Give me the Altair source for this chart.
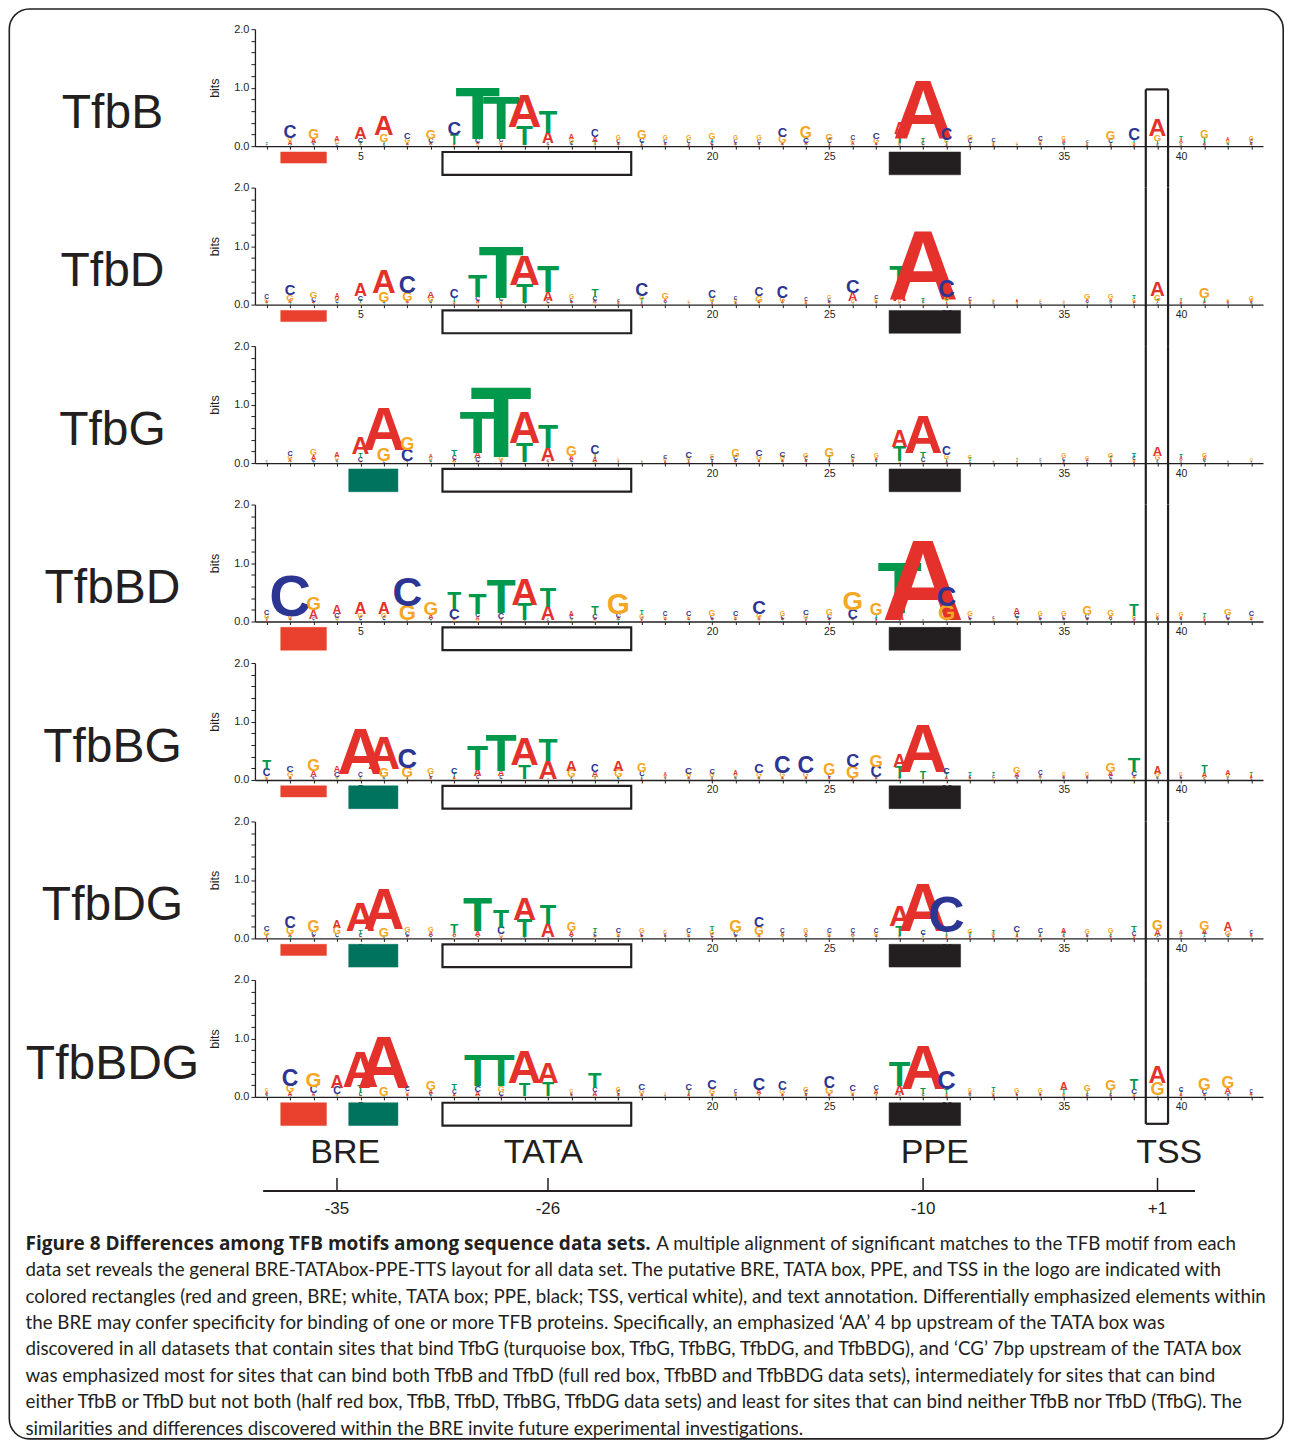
import altair as alt
import pandas as pd

# ---------------------------------------------------------------- data
PANELS = ["TfbB", "TfbD", "TfbG", "TfbBD", "TfbBG", "TfbDG", "TfbBDG"]

# one string per alignment position (1..43): letter + height in 1/100 bits,
# listed from top of the stack downwards
TFBB = ["T2 C1 G1 A1", "C20 G6 A6 T2", "G15 A7 C3 T2", "A7 G5 C3 T1", "A19 C7 T4 G2",
        "A31 G12 T5 C2", "C9 G7 A3 T2", "G14 C7 A4 T2", "C21 T15 A2 G2", "T87 C7 A3 G3",
        "T72 C6 G5 A2", "A55 T31 C1 G1", "T35 A18 C3 G2", "A7 G6 C4 T2", "C11 A8 T5 G2",
        "G6 C5 A3 T2", "G13 C7 T4 A2", "G6 C5 A3 T2", "G6 C5 T3 A2", "G9 T7 C4 A2",
        "G6 C5 A3 T2", "G7 C5 A3 T2", "C14 G11 A3 T2", "G17 C8 A4 T2", "G10 C6 T3 A2",
        "C6 G5 A4 T2", "C10 G8 A3 T2", "A17 T15 G4 C2", "A100 T6 C4 G2", "C17 G5 T4 A2",
        "G7 C6 T3 A2", "C5 G3 T2 A2", "G2 C1 A1 T1", "C6 G4 A3 T2", "G5 A5 C3 T2",
        "C3 G2 A2 T1", "G13 C6 T3 A2", "C18 T5 G3 A2", "A28 G10 T6 C2", "T5 A5 G3 C2",
        "G11 T9 A3 C2", "A4 G4 C3 T2", "G6 C4 A3 T2"]
TFBD = ["C6 G5 A3 T2", "C16 G10 A4 T2", "G10 C6 A3 T2", "A6 G6 C4 T2", "A20 C7 T5 G2",
        "A38 G15 C3 T2", "C27 G14 A4 T2", "A10 G7 C3 T2", "C13 T6 G3 A2", "T36 C6 A4 G3",
        "T88 C6 G4 A2", "A50 T32 C1 G1", "T42 A15 C4 G2", "G6 C4 A3 T2", "T12 C6 A5 G2",
        "C3 G2 A2 T1", "C20 G6 T6 A2", "G9 A4 C3 T2", "G2 C1 A1 T1", "C11 G6 T3 A2",
        "C4 G4 A2 T2", "C13 G10 A3 T2", "C17 G7 A3 T2", "C4 G3 A2 T1", "G5 C4 A3 T2",
        "C21 A14 G4 T2", "C5 G4 A3 T2", "T39 A21 G4 C2", "A117 T5 C3 G2", "C26 G7 T4 A2",
        "C4 G3 A2 T2", "G3 T2 C2 A1", "A2 T2 G2 C1", "G2 C2 A1 T1", "G2 C1 A1 T1",
        "G8 A4 C3 T2", "G7 A4 T3 C2", "T5 G4 A3 C2", "A23 G9 T4 C2", "T3 G2 A2 C2",
        "G15 T6 A3 C2", "G3 A2 C2 T1", "G6 A3 C2 T2"]
TFBG = ["C1 G1 A1 T1", "C7 G6 A4 T2", "G9 A7 C4 T2", "A7 G5 C3 T2", "A28 T7 C7 G2",
        "A71 G20 C2 T1", "G20 C19 A2 T2", "A5 G4 C3 T2", "T10 C6 A4 G2", "T70 A10 C6 G2",
        "T120 G6 A2 C2", "A51 T32 C1 G1", "T38 A22 C2 G2", "G15 A6 C4 T2", "C13 T7 A7 G2",
        "G2 A1 C1 T1", "G1 C1 A1 T1", "C5 G4 A2 T1", "C9 G4 T3 A2", "G5 C4 T3 A2",
        "G11 C6 A3 T2", "C10 G7 A3 T2", "C8 G6 A3 T2", "G7 C4 A3 T2", "G13 T6 C3 A2",
        "C5 G4 A3 T2", "G6 A3 C3 T2", "A26 T24 G2 C1", "A63 T10 C6 G2", "C13 G6 T5 A2",
        "G5 T4 C2 A1", "G1 C1 A1 T1", "T2 C1 G1 A1", "C2 G1 A1 T1", "G6 C4 T2 A2",
        "G5 A3 C2 T1", "G7 T4 A3 C2", "T7 C4 G3 A2", "A14 G7 T3 C2", "T5 A4 G3 C2",
        "G6 A4 C3 T2", "G1 C1 A1 T1", "G3 C1 A1 T1"]
TFBBD = ["C7 G6 T3 A2", "C68 G5 A3 T2", "G21 A14 C3 T2", "A13 C7 G4 T2", "A18 G7 C4 T2",
         "A18 G7 C4 T2", "C48 G25 A1 T1", "G21 A7 C3 T2", "T26 C16 A3 G2", "T34 C6 A5 G2",
         "T56 C9 G3 A2", "A43 T27 C1 G1", "T31 A22 C2 G1", "A6 C5 G3 T2", "T13 C7 A3 G2",
         "G34 C7 A4 T2", "T6 G6 C3 A2", "C6 G4 A3 T2", "C7 G4 A3 T2", "G9 C5 A3 T2",
         "C7 G4 A3 T2", "C21 G7 A4 T2", "G7 C5 A3 T2", "C8 G6 T3 A2", "G9 C6 A3 T2",
         "G30 C15 A3 T2", "G18 T6 C3 A2", "T86 A13 C1 G1", "A136 C1 G1 T1", "C31 G25 A1 T1",
         "G7 C5 A3 T2", "C2 G2 A1 T1", "A9 C7 T4 G2", "G6 C4 A3 T2", "G7 C4 A3 T2",
         "G13 C6 A3 T2", "G9 A5 C3 T2", "T17 G5 C3 A2", "G4 A3 C2 T2", "G6 A3 C2 T2",
         "T5 G3 C2 A2", "G10 C6 A3 T2", "C7 G4 A3 T2"]
TFBBG = ["T16 C11 G4 A2", "C10 G8 A3 T2", "G18 A10 C3 T2", "A9 C8 G3 T2", "A76 C6 T3 G2",
         "A53 G14 C3 T2", "C31 G16 T3 A2", "G9 C5 A3 T2", "C9 T6 A3 G2", "T40 A11 C4 G2",
         "T60 A9 C4 G2", "A46 T23 C1 G1", "T36 A30 C1 G1", "A16 G11 T3 C2", "C11 A9 T3 G2",
         "A16 G11 C3 T2", "G13 C7 T4 A2", "A4 G3 C2 T2", "C10 G6 A3 T2", "C7 G6 T3 A2",
         "A6 G4 C3 T2", "C14 G7 A3 T2", "C26 G7 A3 T2", "C26 G7 A3 T2", "G17 C4 A3 T2",
         "C20 G19 A2 T1", "G19 C17 A3 T2", "A20 T18 C2 G2", "A81 T11 C1 G1", "C9 T6 A3 G2",
         "T5 C3 A2 G2", "T4 C3 G2 A1", "G10 A7 C3 T2", "C6 A3 G3 T2", "G4 A3 C2 T2",
         "G5 A3 C2 T2", "G14 A7 C4 T2", "T23 C8 A3 G3", "A11 G6 C3 T2", "G4 C3 A2 T2",
         "T11 A7 G3 C2", "A7 G4 T3 C2", "T4 A3 G2 C2"]
TFBDG = ["C8 G7 T3 A2", "C17 G11 A5 T2", "G17 C6 A3 T2", "A12 G11 C5 T2", "A48 T6 C4 G2",
         "A67 G14 T2 C1", "G8 C6 A3 T2", "G7 A6 C3 T2", "T14 A5 C3 G2", "T56 A8 C3 G2",
         "T30 C11 G5 A2", "A37 T29 C1 G1", "T31 A22 C1 G1", "G13 A7 C3 T2", "T6 C4 A3 G2",
         "C7 G4 A3 T2", "G7 C4 A3 T2", "G4 C3 A2 T2", "C6 G4 A3 T2", "T7 G6 C4 A2",
         "G18 C6 A3 T2", "C15 G13 A4 T2", "C6 A5 G3 T2", "G6 A4 C3 T2", "C6 G5 A3 T2",
         "C6 A5 G3 T2", "C6 G5 A3 T2", "A34 T16 G3 C2", "A80 C7 T4 G2", "C59 T6 G3 A2",
         "G6 T4 C2 A2", "T5 G4 C2 A2", "C9 T6 A3 G2", "C7 T4 A3 G2", "A7 T5 C3 G2",
         "G6 C3 A2 T2", "G7 T4 C3 A2", "T9 C6 G3 A2", "G15 A10 T3 C2", "A5 T3 G2 C2",
         "G14 A7 T5 C2", "A13 G8 C3 T2", "C4 A3 G2 T2"]
TFBBDG = ["G4 A3 C3 T2", "C26 G11 A6 T2", "G23 C11 A4 T2", "A20 C11 G3 T2", "A59 T11 C4 G2",
          "A88 G13 C1 T1", "C6 G5 A3 T2", "G14 A6 C3 T2", "T9 C6 A3 G2", "T52 C9 A7 G2",
          "T52 G9 C7 A2", "A55 T21 C1 G1", "A34 T22 C1 G1", "G4 C3 A2 T2", "T25 C7 A6 G2",
          "G6 C4 A3 T2", "C10 G7 A3 T2", "G2 A1 C1 T1", "C9 T7 A3 G2", "C14 G8 A3 T2",
          "C4 G3 A2 T2", "C19 A7 G3 T2", "C13 G7 A3 T2", "G7 C4 A3 T2", "C17 G11 A3 T2",
          "C9 G5 A3 T2", "C7 A6 G3 T2", "T41 A15 C2 G2", "A74 T9 C3 G2", "C29 T8 G3 A2",
          "G5 A3 C3 T2", "T6 G4 C2 A2", "G6 C3 A2 T2", "G6 C3 A2 T2", "A11 T7 G3 C2",
          "G9 T5 C3 A2", "G15 T7 C3 A2", "T15 C8 G3 A2", "A28 G20 T2 C1", "C6 T4 A3 G2",
          "G18 C7 A3 T2", "G18 A10 C3 T2", "C4 A3 G2 T2"]
LOGOS = dict(zip(PANELS, [TFBB, TFBD, TFBG, TFBBD, TFBBG, TFBDG, TFBBDG]))

BASES = ["A", "C", "G", "T"]
BASE_COLORS = ["#e4312c", "#2c3592", "#f5a623", "#00984a"]

# annotated regions (alignment positions) and which panels show them
REGION_NAMES = ["BRE_CG", "BRE_AA", "TATA", "PPE"]
REGION_START = [1.6, 4.5, 8.5, 27.55]
REGION_END = [3.55, 6.6, 16.55, 30.6]
REGION_FILL = ["#e8412e", "#00735f", "#ffffff", "#231f20"]
PANEL_REGIONS = {
    "TfbB": ["BRE_CG:half", "TATA", "PPE"],
    "TfbD": ["BRE_CG:half", "TATA", "PPE"],
    "TfbG": ["BRE_AA", "TATA", "PPE"],
    "TfbBD": ["BRE_CG", "TATA", "PPE"],
    "TfbBG": ["BRE_CG:half", "BRE_AA", "TATA", "PPE"],
    "TfbDG": ["BRE_CG:half", "BRE_AA", "TATA", "PPE"],
    "TfbBDG": ["BRE_CG", "BRE_AA", "TATA", "PPE"],
}
TSS_SPAN = [38.5, 39.45]

ELEMENT_NAMES = ["BRE", "TATA", "PPE", "TSS"]
ELEMENT_CENTERS = [4.35, 12.8, 29.5, 39.5]
REL_TICK_POS = [4, 13, 29, 39]
REL_TICK_LABELS = ["-35", "-26", "-10", "+1"]

CAPTION_BOLD = "Figure 8 Differences among TFB motifs among sequence data sets."
CAPTION_LINES = [
    "A multiple alignment of significant matches to the TFB motif from each",
    "data set reveals the general BRE-TATAbox-PPE-TTS layout for all data set. The putative BRE, TATA box, PPE, and TSS in the logo are indicated with",
    "colored rectangles (red and green, BRE; white, TATA box; PPE, black; TSS, vertical white), and text annotation. Differentially emphasized elements within",
    "the BRE may confer specificity for binding of one or more TFB proteins. Specifically, an emphasized \u2018AA\u2019 4 bp upstream of the TATA box was",
    "discovered in all datasets that contain sites that bind TfbG (turquoise box, TfbG, TfbBG, TfbDG, and TfbBDG), and \u2018CG\u2019 7bp upstream of the TATA box",
    "was emphasized most for sites that can bind both TfbB and TfbD (full red box, TfbBD and TfbBDG data sets), intermediately for sites that can bind",
    "either TfbB or TfbD but not both (half red box, TfbB, TfbD, TfbBG, TfbDG data sets) and least for sites that can bind neither TfbB nor TfbD (TfbG). The",
    "similarities and differences discovered within the BRE invite future experimental investigations.",
]

# ---------------------------------------------------------------- layout constants
W = 1008.3            # plot width (positions 0.5 .. 43.5)
H = 117               # plot height (0 .. 2 bits)
GAP = 41.5            # vertical gap between logo panels
PX_PER_BIT = H / 2.0
GAP_BITS = GAP / PX_PER_BIT
PLOT_LEFT = 254.5     # page x of the plot area
PLOT_TOP = 29.0       # page y of the first panel's plot area
INK = "#231f20"
LOGO_FONT = "Liberation Sans"
LABEL_FONT = "Liberation Sans"
CAP_FONT = "Lato"
CAP_BOLD_FONT = "Open Sans"

X_SCALE = alt.Scale(domain=[0.5, 43.5], nice=False, zero=False)
Y_SCALE = alt.Scale(domain=[0, 2], nice=False, zero=False)
SIZE_SCALE = alt.Scale(domain=[0, 2], range=[1.5, 2 * PX_PER_BIT / 0.70], zero=False)

# ---------------------------------------------------------------- tables
rows = []
for panel, cols in LOGOS.items():
    for pos, col in enumerate(cols, start=1):
        items = [(tok[0], int(tok[1:]) / 100.0) for tok in col.split()]
        items = list(reversed(items))
        items.sort(key=lambda t: t[1])
        base = 0.0
        for letter, h in items:
            rows.append(dict(panel=panel, pos=pos, letter=letter, h=h, y0=base))
            base += h
letters = pd.DataFrame(rows)

X_AXIS = alt.Axis(
    values=list(range(1, 44)),
    labelExpr="datum.value % 5 == 0 ? datum.label : ''",
    tickSize=3, tickColor=INK, domainColor=INK, domainWidth=1.3, labelColor=INK,
    labelFontSize=10.5, labelFont=LABEL_FONT, labelPadding=2, title=None, grid=False,
    labelOverlap=False, labelFlush=False, zindex=0,
)
Y_AXIS = alt.Axis(
    values=[round(0.2 * k, 1) for k in range(11)],
    labelExpr="(datum.value == 0 || datum.value == 1 || datum.value == 2) ? format(datum.value, '.1f') : ''",
    tickSize=4, tickColor=INK, domainColor=INK, domainWidth=1.3, labelColor=INK,
    labelFontSize=11, labelFont=LABEL_FONT, labelPadding=2, grid=False, labelOverlap=False,
    title="bits", titleFont=LABEL_FONT, titleFontSize=12.5, titleFontWeight="normal",
    titleColor=INK, titlePadding=12, zindex=0,
)


def xq(field):
    return alt.X(field, type="quantitative", scale=X_SCALE, axis=X_AXIS)


def yq(field):
    return alt.Y(field, type="quantitative", scale=Y_SCALE, axis=Y_AXIS)


def make_panel(i, name):
    last = i == len(PANELS) - 1
    layers = []

    logo = alt.Chart(letters[letters.panel == name]).mark_text(
        font=LOGO_FONT, fontWeight="bold", baseline="alphabetic", align="center"
    ).encode(
        x=xq("pos"),
        y=yq("y0"),
        text="letter:N",
        size=alt.Size("h:Q", scale=SIZE_SCALE, legend=None),
        color=alt.Color("letter:N", scale=alt.Scale(domain=BASES, range=BASE_COLORS), legend=None),
    )
    layers.append(logo)

    # region boxes under the axis
    brows = []
    for spec in PANEL_REGIONS[name]:
        key, _, mode = spec.partition(":")
        k = REGION_NAMES.index(key)
        bottom = -0.29 if mode == "half" else -0.49
        fill = REGION_FILL[k]
        stroke = INK if key == "TATA" else fill
        sw = 2.2 if key == "TATA" else 0.5
        brows.append(dict(x=REGION_START[k], x2=REGION_END[k], y=-0.10, y2=bottom,
                          fill=fill, stroke=stroke, sw=sw))
    boxes = alt.Chart(pd.DataFrame(brows)).mark_rect().encode(
        x=xq("x"), x2="x2:Q", y=yq("y"), y2="y2:Q",
        fill=alt.Fill("fill:N", scale=None),
        stroke=alt.Stroke("stroke:N", scale=None),
        strokeWidth=alt.StrokeWidth("sw:Q", scale=None),
    )
    layers.append(boxes)

    # TSS frame, drawn as segments that join across panels
    top = 0.97 if i == 0 else 2.0
    bottom = -0.46 if last else -GAP_BITS
    vrows = [dict(x=TSS_SPAN[0], y=top, y2=bottom), dict(x=TSS_SPAN[1], y=top, y2=bottom)]
    vlines = alt.Chart(pd.DataFrame(vrows)).mark_rule(color=INK, strokeWidth=2.2).encode(
        x=xq("x"), y=yq("y"), y2="y2:Q")
    layers.append(vlines)
    hrows = []
    if i == 0:
        hrows.append(dict(x=TSS_SPAN[0], x2=TSS_SPAN[1], y=0.97))
    if last:
        hrows.append(dict(x=TSS_SPAN[0], x2=TSS_SPAN[1], y=-0.46))
    if hrows:
        hl = alt.Chart(pd.DataFrame(hrows)).mark_rule(color=INK, strokeWidth=2.2).encode(
            x=xq("x"), x2="x2:Q", y=yq("y"))
        layers.append(hl)

    # panel name
    lab = alt.Chart(pd.DataFrame({"name": [name], "y": [0.31]})).mark_text(
        font=LABEL_FONT, fontSize=48, align="center", baseline="alphabetic", color=INK
    ).encode(x=alt.value(112 - PLOT_LEFT), y=yq("y"), text="name:N")
    layers.append(lab)

    if i == 0:
        # rounded frame around the whole figure (kept inside the 1276 px page width)
        border = alt.Chart(pd.DataFrame({"k": [0]})).mark_rect(
            fill=None, stroke=INK, strokeWidth=1.6, cornerRadius=20
        ).encode(x=alt.value(8.8 - PLOT_LEFT), x2=alt.value(1283.0 - PLOT_LEFT),
                 y=alt.value(8.8 - PLOT_TOP), y2=alt.value(1439.0 - PLOT_TOP))
        layers.append(border)

    if last:
        el = alt.Chart(pd.DataFrame({"name": ELEMENT_NAMES, "x": ELEMENT_CENTERS,
                                     "y": [-66 / PX_PER_BIT] * 4})).mark_text(
            font=LABEL_FONT, fontSize=34, align="center", baseline="alphabetic", color=INK
        ).encode(x=xq("x"), y=yq("y"), text="name:N")
        layers.append(el)

        yl = -94 / PX_PER_BIT
        line = alt.Chart(pd.DataFrame({"x": [0.85], "x2": [40.6], "y": [yl]})).mark_rule(
            color=INK, strokeWidth=2).encode(x=xq("x"), x2="x2:Q", y=yq("y"))
        ticks = alt.Chart(pd.DataFrame({"x": REL_TICK_POS, "y": [yl] * 4,
                                        "y2": [yl + 13 / PX_PER_BIT] * 4})).mark_rule(
            color=INK, strokeWidth=1.5).encode(x=xq("x"), y=yq("y"), y2="y2:Q")
        tl = alt.Chart(pd.DataFrame({"t": REL_TICK_LABELS, "x": REL_TICK_POS,
                                     "y": [-117 / PX_PER_BIT] * 4})).mark_text(
            font=LABEL_FONT, fontSize=17, align="center", baseline="alphabetic", color=INK
        ).encode(x=xq("x"), y=yq("y"), text="t:N")
        layers += [line, ticks, tl]

        # caption, placed in pixels relative to this panel
        top_page = PLOT_TOP + i * (H + GAP)
        cx = 25 - PLOT_LEFT
        cb = alt.Chart(pd.DataFrame({"t": [CAPTION_BOLD], "px": [cx],
                                     "py": [1244 - top_page]})).mark_text(
            font=CAP_BOLD_FONT, fontSize=19, fontWeight="bold", align="left", baseline="middle",
            color=INK).encode(x=alt.X("px:Q", scale=None), y=alt.Y("py:Q", scale=None), text="t:N")
        cap_x = [656 - PLOT_LEFT] + [cx] * (len(CAPTION_LINES) - 1)
        cap_y = [1244 - top_page + 26.4 * k for k in range(len(CAPTION_LINES))]
        cr = alt.Chart(pd.DataFrame({"t": CAPTION_LINES, "px": cap_x, "py": cap_y})).mark_text(
            font=CAP_FONT, fontSize=18.75, align="left", baseline="middle", color=INK
        ).encode(x=alt.X("px:Q", scale=None), y=alt.Y("py:Q", scale=None), text="t:N")
        layers += [cb, cr]

    return alt.layer(*layers).properties(width=W, height=H)


chart = alt.vconcat(
    *[make_panel(i, n) for i, n in enumerate(PANELS)], spacing=GAP, bounds="flush"
).properties(padding=0, background="white").configure_view(stroke=None)

chart.save("out.html", embed_options={"renderer": "svg", "actions": False})
